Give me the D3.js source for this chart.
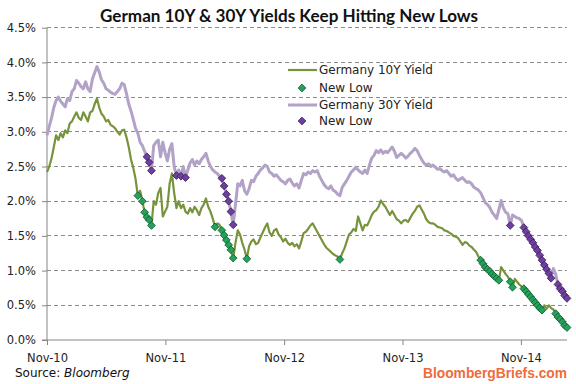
<!DOCTYPE html>
<html>
<head>
<meta charset="utf-8">
<script src="https://cdn.jsdelivr.net/npm/d3@7"></script>
<style>
  html, body { margin: 0; padding: 0; background: #fff; }
  svg { display: block; }
</style>
</head>
<body>
<svg id="chart" width="576" height="384"></svg>
<script>
// ---- data (weekly closes, starting the first week of Nov 2010) ----
const startDay = "2010-11-01";
const yield10 = [
  2.42, 2.50, 2.62, 2.78, 2.95, 2.88, 2.98, 2.92, 3.02, 2.98,
  3.12, 3.15, 3.22, 3.28, 3.20, 3.17, 3.28, 3.22, 3.15, 3.28,
  3.30, 3.40, 3.48, 3.35, 3.26, 3.22, 3.15, 3.17, 3.10, 3.08,
  3.05, 3.00, 2.96, 3.02, 3.03, 2.92, 2.78, 2.60, 2.48, 2.32,
  2.08, 2.15, 2.00, 1.84, 1.77, 1.73, 1.65, 2.00, 1.95, 2.12,
  2.19, 1.78, 1.85, 1.92, 2.25, 2.40, 2.12, 1.90, 2.00, 1.90,
  1.95, 1.85, 1.82, 1.90, 1.84, 1.92, 1.87, 1.80, 1.90, 1.95,
  2.04, 1.92, 1.85, 1.75, 1.63, 1.68, 1.66, 1.58, 1.51, 1.44,
  1.37, 1.30, 1.18, 1.40, 1.58, 1.52, 1.40, 1.30, 1.17, 1.35,
  1.42, 1.45, 1.38, 1.40, 1.48, 1.55, 1.62, 1.68, 1.55, 1.50,
  1.58, 1.60, 1.52, 1.48, 1.42, 1.46, 1.40, 1.37, 1.40, 1.35,
  1.38, 1.32, 1.42, 1.54, 1.56, 1.60, 1.65, 1.68, 1.62, 1.56,
  1.50, 1.44, 1.38, 1.33, 1.30, 1.27, 1.24, 1.22, 1.20, 1.16,
  1.25, 1.32, 1.42, 1.52, 1.55, 1.60, 1.57, 1.78, 1.68, 1.58,
  1.66, 1.65, 1.72, 1.80, 1.85, 1.87, 1.92, 2.01, 1.96, 1.92,
  1.86, 1.80, 1.86, 1.80, 1.74, 1.72, 1.68, 1.72, 1.73, 1.70,
  1.76, 1.82, 1.86, 1.92, 1.94, 1.88, 1.82, 1.74, 1.70, 1.68,
  1.68, 1.66, 1.63, 1.62, 1.61, 1.58, 1.57, 1.55, 1.53, 1.50,
  1.49, 1.47, 1.42, 1.37, 1.41, 1.40, 1.36, 1.34, 1.30, 1.27,
  1.20, 1.15, 1.10, 1.05, 1.02, 0.99, 0.95, 0.92, 0.89, 0.86,
  1.05, 1.00, 0.95, 0.91, 0.84, 0.76, 0.88, 0.84, 0.80, 0.77,
  0.74, 0.70, 0.66, 0.62, 0.58, 0.54, 0.50, 0.46, 0.43, 0.50,
  0.45, 0.50, 0.46, 0.44, 0.38, 0.33, 0.30, 0.26, 0.21, 0.18
];
const yield30 = [
  2.95, 3.08, 3.20, 3.35, 3.45, 3.50, 3.44, 3.40, 3.36, 3.48,
  3.45, 3.58, 3.62, 3.74, 3.70, 3.65, 3.62, 3.72, 3.62, 3.58,
  3.76, 3.85, 3.94, 3.86, 3.75, 3.70, 3.62, 3.60, 3.57, 3.55,
  3.54, 3.58, 3.62, 3.70, 3.68, 3.55, 3.40, 3.30, 3.18, 3.05,
  2.98, 2.85, 2.80, 2.72, 2.64, 2.56, 2.44, 2.80, 2.85, 2.88,
  2.64, 2.85, 2.70, 2.58, 2.75, 2.83, 2.50, 2.37, 2.45, 2.36,
  2.50, 2.34, 2.45, 2.55, 2.60, 2.52, 2.58, 2.54, 2.60, 2.64,
  2.69, 2.58, 2.50, 2.45, 2.42, 2.40, 2.36, 2.33, 2.22, 2.10,
  2.00, 1.85, 1.66, 1.95, 2.25, 2.22, 2.30, 2.15, 2.10, 2.18,
  2.30, 2.28, 2.36, 2.40, 2.45, 2.48, 2.52, 2.50, 2.42, 2.40,
  2.36, 2.38, 2.34, 2.30, 2.28, 2.25, 2.30, 2.32, 2.26, 2.22,
  2.25, 2.19, 2.30, 2.40, 2.38, 2.42, 2.40, 2.44, 2.42, 2.44,
  2.36, 2.30, 2.24, 2.20, 2.18, 2.22, 2.16, 2.14, 2.10, 2.08,
  2.20, 2.25, 2.30, 2.36, 2.42, 2.45, 2.49, 2.45, 2.42, 2.40,
  2.45, 2.40, 2.52, 2.62, 2.66, 2.73, 2.70, 2.74, 2.69, 2.72,
  2.70, 2.74, 2.78, 2.72, 2.63, 2.66, 2.69, 2.66, 2.62, 2.65,
  2.69, 2.72, 2.76, 2.73, 2.66, 2.60, 2.55, 2.52, 2.54, 2.50,
  2.52, 2.49, 2.46, 2.47, 2.44, 2.42, 2.44, 2.40, 2.36, 2.38,
  2.33, 2.30, 2.32, 2.34, 2.30, 2.27, 2.28, 2.25, 2.20, 2.18,
  2.16, 2.12, 2.05, 1.98, 1.95, 1.91, 1.84, 1.80, 1.75, 1.88,
  2.01, 1.90, 1.84, 1.82, 1.65, 1.80, 1.78, 1.76, 1.75, 1.72,
  1.62, 1.56, 1.50, 1.45, 1.40, 1.34, 1.29, 1.22, 1.15, 1.08,
  1.02, 0.96, 0.89, 1.03, 0.95, 0.80, 0.74, 0.70, 0.64, 0.60
];
// weeks (index into the series) that set a new low
const newLow10Weeks = [40, 42, 43, 44, 45, 46, 74, 77, 78, 79, 80, 81, 82, 88, 129,
  191, 192, 193, 194, 195, 196, 197, 198, 199, 204, 205,
  210, 211, 212, 213, 214, 215, 216, 217, 218, 224, 225, 226, 227, 228, 229];
const newLow30Weeks = [44, 45, 46, 57, 59, 61, 77, 78, 79, 80, 81, 82, 204,
  210, 211, 212, 213, 214, 215, 216, 217, 218, 219, 220, 221, 222,
  225, 226, 227, 228, 229];
const yTicks = [0, 0.5, 1.0, 1.5, 2.0, 2.5, 3.0, 3.5, 4.0, 4.5];
const xTickDays = ["2010-11-01", "2011-11-01", "2012-11-01", "2013-11-01", "2014-11-01"];
const legendLabels = ["Germany 10Y Yield", "New Low", "Germany 30Y Yield", "New Low"];
const titleText = "German 10Y & 30Y Yields Keep Hitting New Lows";

// ---- drawing ----
const parse = d3.timeParse("%Y-%m-%d");
const t0 = parse(startDay);
const dateOf = i => d3.timeDay.offset(t0, 7 * i);
const s10 = yield10.map((v, i) => ({ date: dateOf(i), v }));
const s30 = yield30.map((v, i) => ({ date: dateOf(i), v }));

const svg = d3.select("#chart");
const L = 47, R = 567, T = 27.7, B = 340;
const x = d3.scaleTime().domain([t0, dateOf(yield10.length - 1)]).range([L, R]);
const y = d3.scaleLinear().domain([0, 4.5]).range([B, T]);
const axisCol = "#868686";
const fontAx = "'DejaVu Sans', Verdana, sans-serif";

// gridlines
svg.append("g").selectAll("line").data(yTicks.filter(d => d > 0)).join("line")
  .attr("x1", L).attr("x2", R)
  .attr("y1", d => y(d)).attr("y2", d => y(d))
  .attr("stroke", "#8c8c8c").attr("stroke-width", 1)
  .attr("stroke-dasharray", "4,3")
  .attr("shape-rendering", "crispEdges");

// y axis
const yAxis = d3.axisLeft(y).tickValues(yTicks).tickSize(5).tickPadding(6)
  .tickFormat(d => d3.format(".1f")(d) + "%");
const gy = svg.append("g").attr("transform", `translate(${L},0)`).call(yAxis);
gy.select(".domain").attr("stroke", axisCol).attr("d", `M-5,${B}H0V${T}`);
gy.selectAll(".tick line").attr("stroke", axisCol);
gy.selectAll(".tick text").attr("font-family", fontAx).attr("font-size", 11.5).attr("fill", "#222");

// x axis
const xAxis = d3.axisBottom(x).tickValues(xTickDays.map(parse)).tickSize(5).tickPadding(9)
  .tickFormat(d3.timeFormat("%b-%y"));
const gx = svg.append("g").attr("transform", `translate(0,${B})`).call(xAxis);
gx.select(".domain").attr("stroke", axisCol).attr("d", `M${L},0H${R}`);
gx.selectAll(".tick line").attr("stroke", axisCol);
gx.selectAll(".tick text").attr("font-family", fontAx).attr("font-size", 11.5).attr("fill", "#222");

const line = d3.line().x(d => x(d.date)).y(d => y(d.v));
const diamond = d3.symbol(d3.symbolSquare, 30);

const green = "#77933C", lav = "#B3A2C7";
const gFill = "#22A35A", gStroke = "#145A32";
const pFill = "#6E3FA0", pStroke = "#3B2157";

svg.append("path").datum(s10).attr("d", line)
  .attr("fill", "none").attr("stroke", green).attr("stroke-width", 2.2).attr("stroke-linejoin", "round");
svg.append("g").selectAll("path").data(newLow10Weeks.map(i => s10[i])).join("path")
  .attr("d", diamond)
  .attr("transform", d => `translate(${x(d.date)},${y(d.v)}) rotate(45)`)
  .attr("fill", gFill).attr("stroke", gStroke).attr("stroke-width", 0.8);

svg.append("path").datum(s30).attr("d", line)
  .attr("fill", "none").attr("stroke", lav).attr("stroke-width", 3).attr("stroke-linejoin", "round");
svg.append("g").selectAll("path").data(newLow30Weeks.map(i => s30[i])).join("path")
  .attr("d", diamond)
  .attr("transform", d => `translate(${x(d.date)},${y(d.v)}) rotate(45)`)
  .attr("fill", pFill).attr("stroke", pStroke).attr("stroke-width", 0.8);

// legend
const lg = svg.append("g");
const rows = [70, 88, 105, 121];
lg.append("line").attr("x1", 288).attr("x2", 317).attr("y1", rows[0]).attr("y2", rows[0])
  .attr("stroke", green).attr("stroke-width", 2.2);
lg.append("path").attr("d", diamond).attr("transform", `translate(302,${rows[1]}) rotate(45)`)
  .attr("fill", gFill).attr("stroke", gStroke).attr("stroke-width", 0.8);
lg.append("line").attr("x1", 288).attr("x2", 317).attr("y1", rows[2]).attr("y2", rows[2])
  .attr("stroke", lav).attr("stroke-width", 3);
lg.append("path").attr("d", diamond).attr("transform", `translate(302,${rows[3]}) rotate(45)`)
  .attr("fill", pFill).attr("stroke", pStroke).attr("stroke-width", 0.8);
lg.selectAll("text").data(legendLabels).join("text")
  .attr("x", 319).attr("y", (d, i) => rows[i]).attr("dy", "0.36em")
  .attr("font-family", fontAx).attr("font-size", 12).attr("fill", "#222")
  .text(d => d);

// title
svg.append("text").attr("x", 289).attr("y", 22).attr("text-anchor", "middle")
  .attr("font-family", "Lato, 'Open Sans', sans-serif").attr("font-weight", "bold")
  .attr("font-size", 16.5).attr("fill", "#111")
  .attr("textLength", 378).attr("lengthAdjust", "spacingAndGlyphs")
  .text(titleText);

// source
const src = svg.append("text").attr("x", 15).attr("y", 377)
  .attr("font-family", fontAx).attr("font-size", 12).attr("fill", "#111");
src.append("tspan").text("Source: ");
src.append("tspan").attr("font-style", "italic").text("Bloomberg");

// brand
svg.append("text").attr("x", 567).attr("y", 378).attr("text-anchor", "end")
  .attr("font-family", "'Liberation Sans', Arial, sans-serif").attr("font-weight", "bold")
  .attr("font-size", 14.5).attr("fill", "#EE6B3B")
  .attr("textLength", 144).attr("lengthAdjust", "spacingAndGlyphs")
  .text("BloombergBriefs.com");
</script>
</body>
</html>
